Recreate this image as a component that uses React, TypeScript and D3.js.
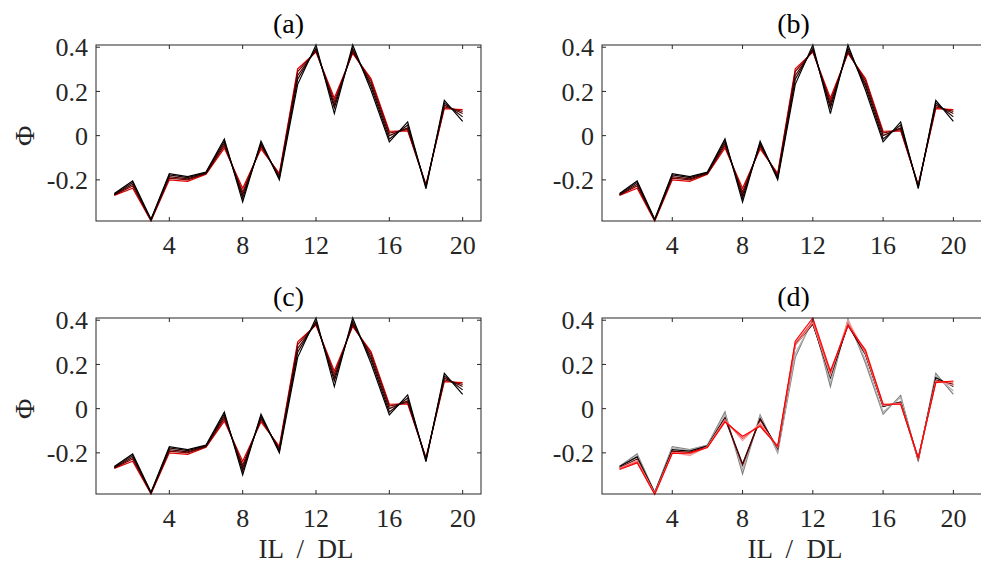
import * as d3 from 'd3';

const WIDTH = 981;
const HEIGHT = 564;

// x positions (IL / DL)
const xValues = d3.range(1, 21);
const xTicks = [4, 8, 12, 16, 20];
const yTicks = [-0.2, 0, 0.2, 0.4];
const yTickLabels = ['-0.2', '0', '0.2', '0.4'];
const panelTitles = ['(a)', '(b)', '(c)', '(d)'];

// panels (a), (b), (c) share these runs, black -> red
const run1 = [-0.262, -0.205, -0.378, -0.172, -0.185, -0.165, -0.015, -0.3, -0.025, -0.2, 0.232, 0.41, 0.1, 0.41, 0.205, -0.028, 0.062, -0.24, 0.16, 0.065];
const run2 = [-0.265, -0.212, -0.38, -0.178, -0.19, -0.168, -0.025, -0.282, -0.035, -0.192, 0.255, 0.395, 0.125, 0.395, 0.222, -0.015, 0.048, -0.232, 0.148, 0.085];
const run3 = [-0.267, -0.22, -0.382, -0.185, -0.195, -0.17, -0.035, -0.268, -0.042, -0.185, 0.272, 0.388, 0.14, 0.385, 0.235, 0.0, 0.035, -0.228, 0.138, 0.1];
const run4 = [-0.268, -0.228, -0.383, -0.192, -0.2, -0.172, -0.045, -0.255, -0.05, -0.178, 0.29, 0.382, 0.155, 0.378, 0.248, 0.012, 0.028, -0.225, 0.13, 0.11];
const run5 = [-0.27, -0.238, -0.386, -0.2, -0.207, -0.175, -0.056, -0.238, -0.06, -0.17, 0.302, 0.378, 0.17, 0.372, 0.258, 0.02, 0.022, -0.222, 0.122, 0.118];
const runColors = ['#e00000', '#7a0000', '#4a0000', '#220000', '#000000'];

// panel (d): gray -> red
const dRun1 = [-0.26, -0.205, -0.378, -0.172, -0.185, -0.165, -0.015, -0.295, -0.028, -0.2, 0.232, 0.405, 0.1, 0.405, 0.205, -0.025, 0.06, -0.238, 0.16, 0.065];
const dRun2 = [-0.265, -0.212, -0.38, -0.178, -0.188, -0.166, -0.025, -0.275, -0.035, -0.195, 0.25, 0.395, 0.118, 0.395, 0.22, -0.015, 0.05, -0.235, 0.15, 0.08];
const dRun3 = [-0.262, -0.218, -0.38, -0.185, -0.192, -0.168, -0.04, -0.25, -0.045, -0.18, 0.29, 0.385, 0.14, 0.38, 0.245, 0.01, 0.03, -0.23, 0.14, 0.1];
const dRun4 = [-0.268, -0.228, -0.383, -0.192, -0.198, -0.172, -0.045, -0.255, -0.05, -0.178, 0.288, 0.382, 0.152, 0.378, 0.245, 0.012, 0.028, -0.225, 0.13, 0.11];
const dRun5 = [-0.27, -0.235, -0.384, -0.198, -0.212, -0.172, -0.05, -0.145, -0.065, -0.175, 0.285, 0.39, 0.15, 0.4, 0.25, 0.015, 0.025, -0.228, 0.125, 0.105];
const dRun6 = [-0.272, -0.24, -0.386, -0.2, -0.205, -0.175, -0.055, -0.135, -0.072, -0.172, 0.295, 0.395, 0.16, 0.385, 0.255, 0.018, 0.022, -0.225, 0.122, 0.12];
const dRun7 = [-0.275, -0.245, -0.388, -0.202, -0.2, -0.176, -0.06, -0.125, -0.08, -0.17, 0.305, 0.41, 0.17, 0.375, 0.265, 0.02, 0.02, -0.222, 0.118, 0.125];
const dColors = ['#808080', '#b0b0b0', '#000000', '#6a0000', '#f4a0a0', '#f05050', '#ff0000'];

const abcRuns = [run5, run4, run3, run2, run1];
const dRuns = [dRun1, dRun2, dRun3, dRun4, dRun5, dRun6, dRun7];

const FONT = "'Times New Roman', 'Liberation Serif', 'DejaVu Serif', serif";
const AXIS_COLOR = '#262626';

type PanelProps = {
  left: number;
  top: number;
  width: number;
  height: number;
  xMax: number;
  title: string;
  runs: number[][];
  colors: string[];
  showYLabel: boolean;
  showXLabel: boolean;
  xLabelX: number;
};

const Panel = ({ left, top, width, height, xMax, title, runs, colors, showYLabel, showXLabel, xLabelX }: PanelProps) => {
  const xScale = d3.scaleLinear().domain([0, xMax]).range([0, width]);
  const yScale = d3.scaleLinear().domain([-0.386, 0.41]).range([height, 0]);
  const lineBuilder = d3
    .line<number>()
    .x((_, i) => xScale(xValues[i]))
    .y((d) => yScale(d));
  const tickLen = 4;

  return (
    <g transform={`translate(${left},${top})`} style={{ fontFamily: FONT }}>
      <defs>
        <clipPath id={`clip-${title}`}>
          <rect x={0} y={-1} width={width} height={height + 2} />
        </clipPath>
      </defs>
      <g clipPath={`url(#clip-${title})`}>
        {runs.map((run, i) => (
          <path key={i} d={lineBuilder(run) || ''} fill="none" stroke={colors[i]} strokeWidth={1.2} />
        ))}
      </g>
      <rect x={0} y={0} width={width} height={height} fill="none" stroke={AXIS_COLOR} strokeWidth={1} />
      {xTicks.map((t) => (
        <g key={t}>
          <line x1={xScale(t)} x2={xScale(t)} y1={height} y2={height - tickLen} stroke={AXIS_COLOR} />
          <line x1={xScale(t)} x2={xScale(t)} y1={0} y2={tickLen} stroke={AXIS_COLOR} />
          <text x={xScale(t)} y={height + 33} textAnchor="middle" fontSize={26} fill={AXIS_COLOR}>
            {t}
          </text>
        </g>
      ))}
      {yTicks.map((t, i) => (
        <g key={t}>
          <line x1={0} x2={tickLen} y1={yScale(t)} y2={yScale(t)} stroke={AXIS_COLOR} />
          <line x1={width} x2={width - tickLen} y1={yScale(t)} y2={yScale(t)} stroke={AXIS_COLOR} />
          <text x={-8} y={yScale(t)} dy="0.35em" textAnchor="end" fontSize={26} fill={AXIS_COLOR}>
            {yTickLabels[i]}
          </text>
        </g>
      ))}
      <text x={width / 2} y={-12} textAnchor="middle" fontSize={28} fill="#000">
        {title}
      </text>
      {showYLabel && (
        <text
          transform={`translate(${24 - left},${yScale(0)}) rotate(-90)`}
          dy="0.35em"
          textAnchor="middle"
          fontSize={28}
          fill={AXIS_COLOR}
        >
          Φ
        </text>
      )}
      {showXLabel && (
        <text x={xLabelX - left} y={height + 64} textAnchor="middle" fontSize={27} fill={AXIS_COLOR} style={{ whiteSpace: 'pre' }}>
          {'IL  /  DL'}
        </text>
      )}
    </g>
  );
};

const App = () => {
  const leftX = 96;
  const leftW = 385;
  const rightX = 602;
  const rightW = 383;
  const topY = [45, 318];
  const panelH = 176;

  return (
    <svg width={WIDTH} height={HEIGHT} style={{ position: 'absolute', left: 0, top: 0, background: '#fff' }}>
      <rect width={WIDTH} height={HEIGHT} fill="#fff" />
      <Panel left={leftX} top={topY[0]} width={leftW} height={panelH} xMax={21} title={panelTitles[0]} runs={abcRuns} colors={runColors} showYLabel showXLabel={false} xLabelX={0} />
      <Panel left={rightX} top={topY[0]} width={rightW} height={panelH} xMax={21.8} title={panelTitles[1]} runs={abcRuns} colors={runColors} showYLabel={false} showXLabel={false} xLabelX={0} />
      <Panel left={leftX} top={topY[1]} width={leftW} height={panelH} xMax={21} title={panelTitles[2]} runs={abcRuns} colors={runColors} showYLabel showXLabel xLabelX={306} />
      <Panel left={rightX} top={topY[1]} width={rightW} height={panelH} xMax={21.8} title={panelTitles[3]} runs={dRuns} colors={dColors} showYLabel={false} showXLabel xLabelX={795} />
    </svg>
  );
};

export default App;
